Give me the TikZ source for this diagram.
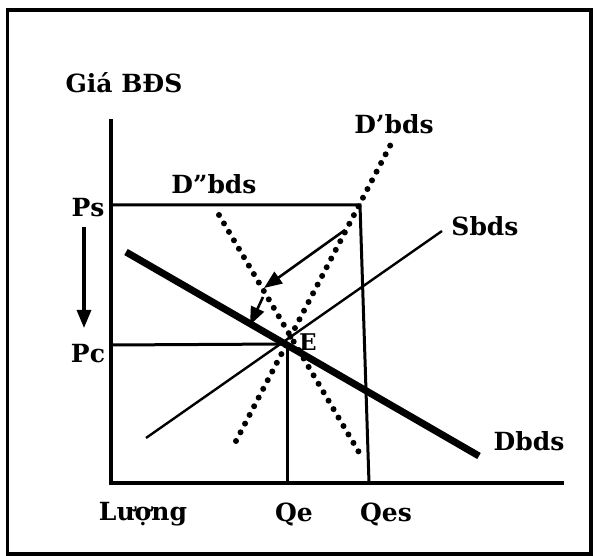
\documentclass[tikz,border=0pt]{standalone}
\usepackage{fontspec}
\setmainfont{DejaVu Serif}
\usetikzlibrary{arrows.meta}
\begin{document}
\begin{tikzpicture}[x=1pt,y=-1pt,
  lbl/.style={font=\bfseries\fontsize{25}{28}\selectfont, inner sep=0pt},
  axis/.style={line width=4pt},
  guide/.style={line width=3pt},
  supply/.style={line width=2.4pt},
  demand/.style={line width=7pt},
  shifted/.style={line width=6pt, dash pattern=on 0pt off 9.8pt, line cap=round},
  move/.style={line width=2.6pt, -{Triangle[length=18pt,width=14pt]}}]
\useasboundingbox (0,0) rectangle (598,556);
\draw[line width=3.2pt] (7.5,10) rectangle (591,554);
% coordinates
\coordinate (O) at (111,483);
\coordinate (Ytop) at (111,119);
\coordinate (Xend) at (564,483);
\coordinate (PsL) at (111,205);
\coordinate (PsR) at (360,205);
\coordinate (QesB) at (369,483);
\coordinate (PcL) at (111,345);
\coordinate (E) at (286,344);
\coordinate (QeB) at (287,483);
\coordinate (D1) at (126,252);
\coordinate (D2) at (479,456);
\coordinate (S1) at (146,438);
\coordinate (S2) at (442,231);
\coordinate (Dp1) at (236,441);
\coordinate (Dp2) at (391,144);
\coordinate (Dpp1) at (219,215);
\coordinate (Dpp2) at (360,454);
\coordinate (A1s) at (345,230);
\coordinate (A1e) at (264,288);
\coordinate (A2s) at (263,297);
\coordinate (A2e) at (250,325);
\coordinate (Vs) at (84,227);
\coordinate (Ve) at (84,328);
% axes
\draw[axis] (Ytop) -- (O) -- (Xend);
% guides
\draw[guide] (PsL) -- (PsR) -- (QesB);
\draw[guide] (PcL) -- (E);
\draw[guide] (E) ++(1,0) -- (QeB);
% curves
\draw[supply] (S1) -- (S2);
\draw[demand] (D1) -- (D2);
\draw[shifted] (Dp1) -- (Dp2);
\draw[shifted] (Dpp1) -- (Dpp2);
% arrows
\draw[move] (A1s) -- (A1e);
\draw[move] (A2s) -- (A2e);
\draw[move, line width=3.2pt] (Vs) -- (Ve);
% labels
\node[lbl] (tGia) at (124,83) {Giá BĐS};
\node[lbl] (tDp) at (394,124) {D’bds};
\node[lbl] (tDpp) at (214,184) {D”bds};
\node[lbl] (tPs) at (88,208) {Ps};
\node[lbl] (tS) at (485,226) {Sbds};
\node[lbl, font=\bfseries\fontsize{23}{26}\selectfont] (tE) at (308,342) {E};
\node[lbl] (tPc) at (88,354) {Pc};
\node[lbl] (tD) at (529,441) {Dbds};
\node[lbl] (tL) at (143,514) {Lượng};
\node[lbl] (tQe) at (294,514) {Qe};
\node[lbl] (tQes) at (386,514) {Qes};
\end{tikzpicture}
\end{document}
